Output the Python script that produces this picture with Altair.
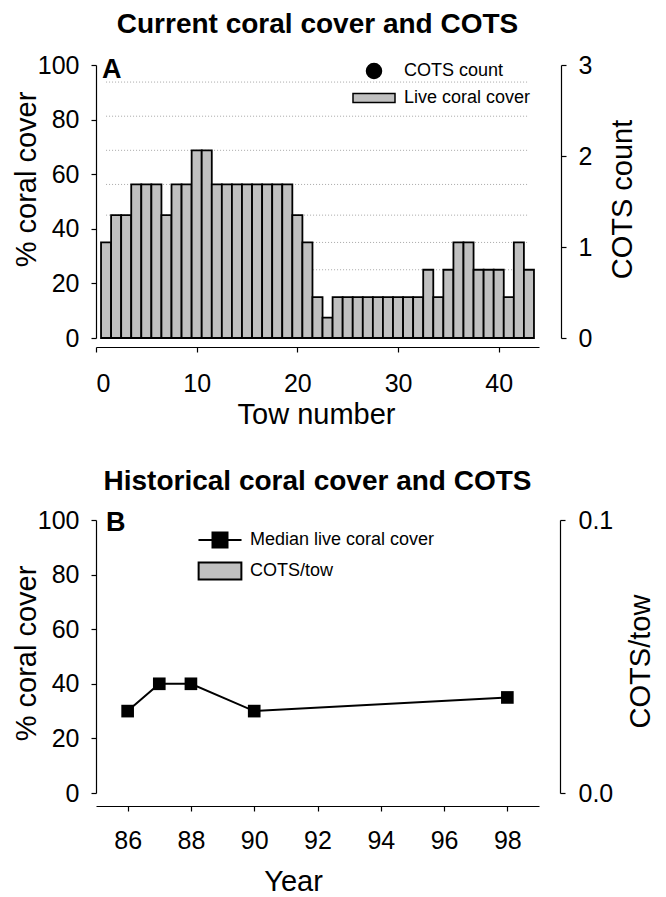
import altair as alt
import pandas as pd

FONT = "Liberation Sans"

# ---------------- Panel A data ----------------
tows = list(range(1, 44))
coral_cover = [35, 45, 45, 56.25, 56.25, 56.25, 45, 56.25, 56.25, 68.75, 68.75,
               56.25, 56.25, 56.25, 56.25, 56.25, 56.25, 56.25, 56.25,
               45, 35, 15, 7.5,
               15, 15, 15, 15, 15, 15, 15, 15, 15,
               25, 15, 25, 35, 35, 25, 25, 25, 15, 35, 25]
cots_count = [0] * 43
grid_levels = [25, 35, 45, 56.25, 68.75, 81.25, 93.75]
legendA_labels = ["COTS count", "Live coral cover"]

# ---------------- Panel B data ----------------
years = [86, 87, 88, 90, 98]
median_cover = [30, 40, 40, 30, 35]
cots_per_tow = [0, 0, 0, 0, 0]
legendB_labels = ["Median live coral cover", "COTS/tow"]

tow_df = pd.DataFrame({"tow": tows, "cover": coral_cover, "cots": cots_count})
grid_df = pd.DataFrame({"level": grid_levels, "start": tows[0], "end": tows[-1]})
hist_df = pd.DataFrame({"year": years, "cover": median_cover, "cots": cots_per_tow})

W, H = 443, 273
GRAY = "#c0c0c0"


def title(text, off):
    return alt.Title(text, font=FONT, fontSize=28, fontWeight="bold", color="black",
                     baseline="alphabetic", offset=off, anchor="middle", frame="group")


def legend(x, y, row_pad, label_off, sw):
    return alt.Legend(title=None, orient="none", legendX=x, legendY=y, rowPadding=row_pad,
                      labelOffset=label_off, symbolStrokeWidth=sw, symbolStrokeColor="black",
                      labelLimit=400, symbolOpacity=1)


# ---------- Panel A ----------
xA_axis = alt.Axis(title="Tow  number", values=[0, 10, 20, 30, 40], offset=9,
                   labelPadding=19, titleY=76, titleX=220, titleBaseline="alphabetic")
xA_scale = alt.Scale(domain=[0, 44], nice=False, zero=False)
yL_axisA = alt.Axis(title="% coral cover", values=[0, 20, 40, 60, 80, 100], labelPadding=12,
                    titleAngle=270, titleX=-70, titleY=114, titleBaseline="middle", titleAlign="center")
yL_scale = alt.Scale(domain=[0, 100], nice=False)

gridA = alt.Chart(grid_df).mark_rule(color="#a8a8a8", strokeDash=[1, 2], strokeWidth=1).encode(
    x=alt.X("start:Q", scale=xA_scale, axis=xA_axis),
    x2="end:Q",
    y=alt.Y("level:Q", scale=yL_scale, axis=yL_axisA),
)

barsA = alt.Chart(tow_df).transform_calculate(
    x0="datum.tow - 0.5", x1="datum.tow + 0.5", base="0"
).mark_bar(fill=GRAY, stroke="black", strokeWidth=1.8, opacity=1).encode(
    x=alt.X("x0:Q", scale=xA_scale, axis=xA_axis),
    x2="x1:Q",
    y=alt.Y("cover:Q", scale=yL_scale, axis=yL_axisA),
    y2="base:Q",
)

cotsA = alt.Chart(tow_df).transform_calculate(series="'COTS count'").transform_filter(
    "datum.cots > 0"
).mark_point(filled=True, opacity=1, size=225).encode(
    x=alt.X("tow:Q", scale=xA_scale, axis=xA_axis),
    y=alt.Y("cots:Q", scale=alt.Scale(domain=[0, 3], nice=False),
            axis=alt.Axis(title="COTS count", orient="right", values=[0, 1, 2, 3], offset=22,
                          labelPadding=12, titleAngle=270, titleX=61, titleY=134,
                          titleBaseline="middle", titleAlign="center")),
    shape=alt.Shape("series:N", scale=alt.Scale(domain=legendA_labels,
                    range=["circle", "M-2.8,-0.6H2.8V0.6H-2.8Z"]),
                    legend=legend(269, -3, 7, 21, 1.5)),
    fill=alt.Fill("series:N", scale=alt.Scale(domain=legendA_labels, range=["black", GRAY]),
                  legend=legend(269, -3, 7, 21, 1.5)),
    stroke=alt.Stroke("series:N", scale=alt.Scale(domain=legendA_labels, range=["black", "black"]),
                      legend=legend(269, -3, 7, 21, 1.5)),
)

labelA = alt.Chart(pd.DataFrame({"panel": ["A"]})).mark_text(
    font=FONT, fontSize=27, fontWeight="bold", align="left", baseline="alphabetic", color="black"
).encode(text="panel:N", x=alt.value(6), y=alt.value(13))

chartA = alt.layer(
    alt.layer(gridA, barsA, labelA),
    cotsA,
).resolve_scale(y="independent").properties(
    width=W, height=H, title=title("Current coral cover and COTS", -8))

# ---------- Panel B ----------
xB_axis = alt.Axis(title="Year", values=[86, 88, 90, 92, 94, 96, 98], offset=13,
                   labelPadding=17, titleY=84, titleX=197, titleBaseline="alphabetic")
xB_scale = alt.Scale(domain=[85, 99], nice=False, zero=False)
yL_axisB = alt.Axis(title="% coral cover", values=[0, 20, 40, 60, 80, 100], labelPadding=12,
                    titleAngle=270, titleX=-70, titleY=133, titleBaseline="middle", titleAlign="center")

lineB = alt.Chart(hist_df).mark_line(color="black", strokeWidth=2).encode(
    x=alt.X("year:Q", scale=xB_scale, axis=xB_axis),
    y=alt.Y("cover:Q", scale=yL_scale, axis=yL_axisB),
)
ptsB = alt.Chart(hist_df).mark_square(color="black", size=160, opacity=1).encode(
    x=alt.X("year:Q", scale=xB_scale, axis=xB_axis),
    y=alt.Y("cover:Q", scale=yL_scale, axis=yL_axisB),
)

cotsB = alt.Chart(hist_df).transform_calculate(series="'COTS/tow'").transform_filter(
    "datum.cots > 0"
).mark_point(filled=True, opacity=1, size=225).encode(
    x=alt.X("year:Q", scale=xB_scale, axis=xB_axis),
    y=alt.Y("cots:Q", scale=alt.Scale(domain=[0, 0.1], nice=False),
            axis=alt.Axis(title="COTS/tow", orient="right", values=[0, 0.1], format=".1f", offset=21,
                          labelPadding=13, titleAngle=270, titleX=80, titleY=141,
                          titleBaseline="middle", titleAlign="center")),
    shape=alt.Shape("series:N", scale=alt.Scale(domain=legendB_labels,
                    range=["M-2.87,0H2.87M-1,-1H1V1H-1Z", "M-2.85,-1.13H2.85V1.13H-2.85Z"]),
                    legend=legend(115, 11, 6, 21, 2)),
    fill=alt.Fill("series:N", scale=alt.Scale(domain=legendB_labels, range=["black", GRAY]),
                  legend=legend(115, 11, 6, 21, 2)),
    stroke=alt.Stroke("series:N", scale=alt.Scale(domain=legendB_labels, range=["black", "black"]),
                      legend=legend(115, 11, 6, 21, 2)),
)

labelB = alt.Chart(pd.DataFrame({"panel": ["B"]})).mark_text(
    font=FONT, fontSize=27, fontWeight="bold", align="left", baseline="alphabetic", color="black"
).encode(text="panel:N", x=alt.value(10), y=alt.value(11))

chartB = alt.layer(
    alt.layer(lineB, ptsB, labelB),
    cotsB,
).resolve_scale(y="independent").properties(
    width=W, height=H, title=title("Historical coral cover and COTS", -10))

chart = alt.vconcat(chartA, chartB, spacing=39).resolve_scale(
    shape="independent", fill="independent", stroke="independent"
).resolve_legend(
    shape="independent", fill="independent", stroke="independent"
).properties(
    padding={"top": 3, "left": 4, "right": 0, "bottom": 0}
).configure_view(stroke=None).configure_axis(
    domainColor="black", tickColor="black", labelColor="black", titleColor="black",
    labelFont=FONT, titleFont=FONT, labelFontSize=25, titleFontSize=29,
    titleFontWeight="normal", grid=False, tickSize=5, domainWidth=1.2, tickWidth=1.2,
).configure_legend(
    labelFont=FONT, labelFontSize=18, labelColor="black", symbolSize=225,
    symbolStrokeColor="black", padding=0, symbolOpacity=1,
)

chart.save("out.html", embed_options={"renderer": "svg", "actions": False})
